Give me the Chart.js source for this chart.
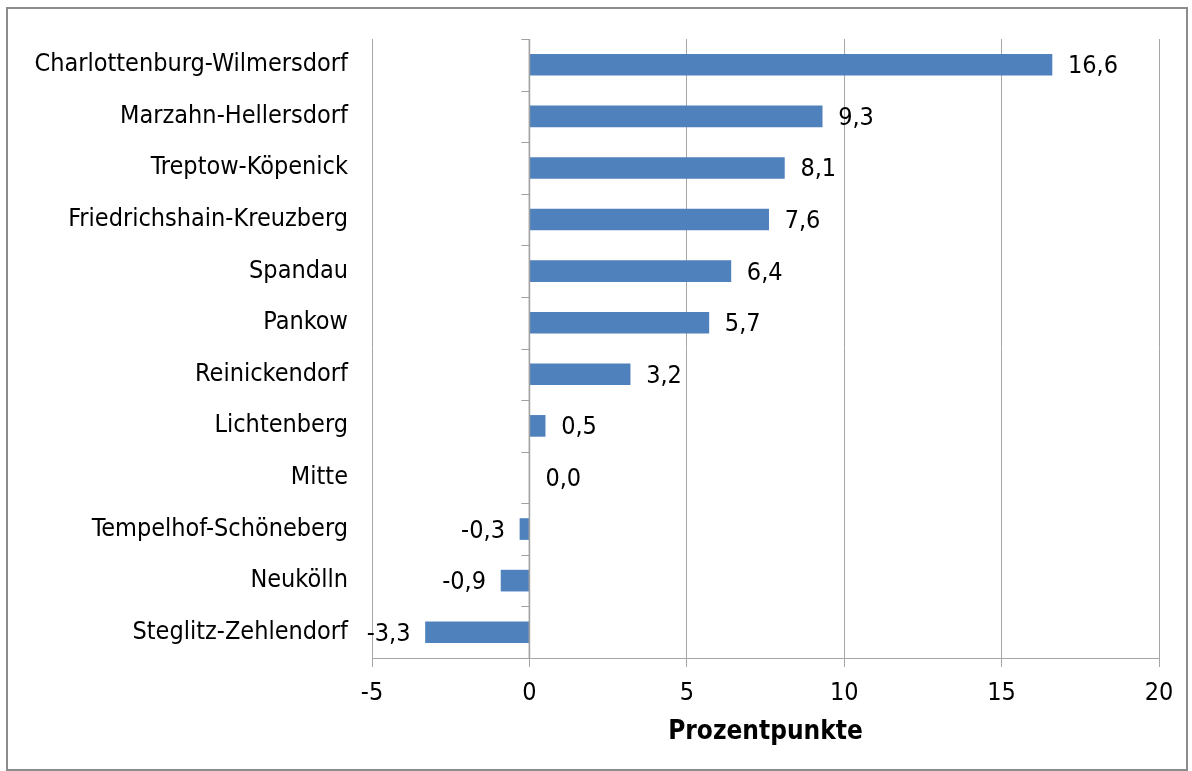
<!DOCTYPE html>
<html>
<head>
<meta charset="utf-8">
<script src="https://cdn.jsdelivr.net/npm/chart.js@4/dist/chart.umd.min.js"></script>
<style>
  html, body { margin: 0; padding: 0; background: #fff; }
  #wrap { width: 1192px; height: 771px; position: relative; }
</style>
</head>
<body>
<div id="wrap"><canvas id="chart" width="1192" height="771"></canvas></div>
<script>
var categories = [
    'Charlottenburg-Wilmersdorf', 'Marzahn-Hellersdorf', 'Treptow-Köpenick',
    'Friedrichshain-Kreuzberg', 'Spandau', 'Pankow', 'Reinickendorf',
    'Lichtenberg', 'Mitte', 'Tempelhof-Schöneberg', 'Neukölln', 'Steglitz-Zehlendorf'
];
var values = [16.6, 9.3, 8.1, 7.6, 6.4, 5.7, 3.2, 0.5, 0.0, -0.3, -0.9, -3.3];
var xMin = -5, xMax = 20, xStep = 5;
var axisTitle = 'Prozentpunkte';

var FONT = "'DejaVu Sans Condensed', 'Liberation Sans', sans-serif";
var gridColor = '#a6a6a6';

function fmt(v) {
    return v.toFixed(1).replace('.', ',');
}

// frame round the whole chart
var framePlugin = {
    id: 'frame',
    beforeDraw: function (chart) {
        var ctx = chart.ctx;
        ctx.save();
        ctx.strokeStyle = '#8c8c8c';
        ctx.lineWidth = 2;
        ctx.strokeRect(7, 8, chart.width - 12, chart.height - 9);
        ctx.restore();
    }
};

// zero line with small ticks between categories
var zeroTicks = {
    id: 'zeroTicks',
    afterDatasetsDraw: function (chart) {
        var ctx = chart.ctx;
        var x0 = chart.scales.x.getPixelForValue(0);
        var ys = chart.scales.y;
        ctx.save();
        ctx.strokeStyle = '#a0a0a0';
        ctx.lineWidth = 1;
        ctx.beginPath();
        for (var i = 0; i <= categories.length; i++) {
            var y = Math.round(ys.getPixelForValue(i - 0.5)) + 0.5;
            ctx.moveTo(x0 - 8, y);
            ctx.lineTo(x0, y);
        }
        ctx.stroke();
        ctx.lineWidth = 1.6;
        ctx.beginPath();
        ctx.moveTo(x0, chart.chartArea.top);
        ctx.lineTo(x0, chart.chartArea.bottom);
        ctx.stroke();
        ctx.restore();
    }
};

// value labels next to each bar
var valueLabels = {
    id: 'valueLabels',
    afterDatasetsDraw: function (chart) {
        var ctx = chart.ctx;
        var meta = chart.getDatasetMeta(0);
        ctx.save();
        ctx.font = '25px ' + FONT;
        ctx.fillStyle = '#000';
        ctx.textBaseline = 'middle';
        meta.data.forEach(function (bar, i) {
            var v = values[i];
            var base = bar.base;
            if (v < 0) {
                ctx.textAlign = 'right';
                ctx.fillText(fmt(v), Math.min(bar.x, base) - 15, bar.y + 2);
            } else {
                ctx.textAlign = 'left';
                ctx.fillText(fmt(v), Math.max(bar.x, base) + 16, bar.y + 2);
            }
        });
        ctx.restore();
    }
};

new Chart(document.getElementById('chart'), {
    type: 'bar',
    data: {
        labels: categories,
        datasets: [{
            data: values,
            backgroundColor: '#4f81bd',
            borderWidth: 0,
            barThickness: 21
        }]
    },
    options: {
        indexAxis: 'y',
        responsive: false,
        animation: false,
        layout: { padding: { top: 35, right: 33, left: 0, bottom: 0 } },
        plugins: {
            legend: { display: false },
            tooltip: { enabled: false }
        },
        scales: {
            x: {
                min: xMin,
                max: xMax,
                ticks: {
                    stepSize: xStep,
                    color: '#000',
                    font: { family: FONT, size: 25 },
                    padding: 11
                },
                grid: { color: gridColor, tickLength: 9, tickColor: gridColor },
                border: { color: gridColor },
                title: {
                    display: true,
                    text: axisTitle,
                    color: '#000',
                    font: { family: FONT, size: 26, weight: 'bold' },
                    padding: { top: 0, bottom: 23 }
                },
                afterFit: function (s) { s.height = 113; }
            },
            y: {
                ticks: {
                    color: '#000',
                    font: { family: FONT, size: 25 },
                    padding: 24
                },
                grid: { display: false, drawTicks: false },
                border: { display: false },
                afterFit: function (s) { s.width = 372; }
            }
        }
    },
    plugins: [framePlugin, zeroTicks, valueLabels]
});
</script>
</body>
</html>
